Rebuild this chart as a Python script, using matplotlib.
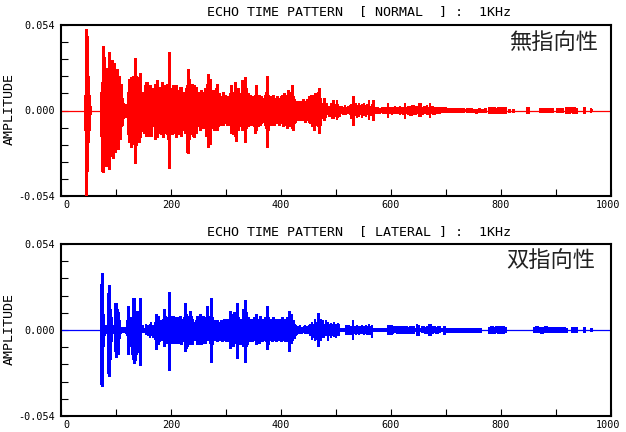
import numpy as np
import matplotlib
matplotlib.use("Agg")
import matplotlib.pyplot as plt
from matplotlib.ticker import MultipleLocator, FixedLocator
import matplotlib.transforms as mtransforms

# ---------------- data ----------------
X_MAX = 1000
Y_LIM = 0.054
X_TICKS = [0, 200, 400, 600, 800, 1000]
Y_TICKS = [-0.054, 0.0, 0.054]
Y_TICK_LABELS = ["-0.054", "0.000", "0.054"]
TITLES = ["ECHO TIME PATTERN  [ NORMAL  ] :  1KHz",
          "ECHO TIME PATTERN  [ LATERAL ] :  1KHz"]
TAGS = ["無指向性", "双指向性"]
Y_LABEL = "AMPLITUDE"
COLORS = ["#ff0000", "#0000ff"]

# NORMAL (omni) echo: spike times [ms], positive / negative peak (x 0.001)
NORMAL_T = (
    [43, 44, 45, 46, 47, 48, 49, 50, 51, 52]
    + [73, 75, 77, 79, 81, 83, 85, 87, 89, 91, 93, 95, 97, 99, 101, 103, 105, 107, 109, 111, 113, 115, 117, 119]
    + [121, 123, 125, 127, 129, 131, 133, 134.5, 136, 137, 139, 141, 143, 145, 147]
    + [150, 152, 154, 156, 158, 160, 162, 164, 166, 168, 170, 172, 174, 176, 178, 180, 182, 184, 186, 188, 190, 192, 194,
       195.5,
       197, 199, 201, 203, 205, 207, 209, 211, 213, 215, 217, 219, 221, 223, 225, 227, 229, 231, 233, 235]
    + [236, 238, 240, 242, 244, 246, 248, 250, 252, 254, 256, 258, 260, 262, 264, 266, 268, 270]
    + [271.5, 273, 275, 277, 279, 281, 283, 285, 287, 289, 291, 293, 295, 297, 299, 301, 303, 305, 307, 309, 311, 313,
       315, 317, 319, 321, 323, 325, 327, 329, 331, 333]
    + [334.5, 336, 338, 340, 342, 344, 346, 348, 350, 352, 354, 356, 358, 360, 362, 364, 366, 368, 370, 372]
    + [374, 376, 378, 380, 382, 384, 386, 388, 390, 392, 394, 396, 398, 400, 402, 404, 406, 408, 410, 412, 414, 416,
       418, 420]
    + [422, 424, 426, 428, 430, 432, 434, 436, 438, 440, 442, 444, 446, 448, 450, 452, 454, 456, 458, 460, 462, 464,
       466, 468, 469.5, 471]
    + [473, 476, 478, 481, 484, 487, 490, 493, 495, 498, 501, 504, 507, 510, 513, 516, 519, 522, 525, 528,
       530, 533, 536, 539, 542, 545, 548, 551, 554, 557, 560, 563, 566, 568, 571, 574, 577, 580, 583, 586,
       589, 592, 595, 598, 601, 604, 607, 610, 613, 616, 619, 622, 625, 628, 632, 636, 640, 644, 648, 653,
       657, 661, 665, 668, 671, 675, 679, 683, 687, 691, 695, 699, 703, 707, 711, 715, 719, 723]
    + [727, 731, 736, 740, 745, 750, 755, 760, 765, 770, 780, 784, 788, 792, 796, 800, 804, 808, 814, 822,
       848, 851, 872, 876, 880, 884, 888, 892, 903, 907, 911, 920, 924, 928, 932, 936, 950, 953, 963, 966]
)
NORMAL_POS = (
    [7, 10, 12, 51.5, 47, 20, 22, 10, 5, 3]
    + [12, 18, 41, 34, 27, 20, 23, 37, 27, 5, 32, 22, 30, 15, 26, 14, 22, 12, 17, 8, 5, 3, 4, 3]
    + [12, 20, 12, 21, 15, 22, 12, 33, 22, 14, 21, 12, 24, 12, 5]
    + [12, 16, 18, 18, 14, 10, 16, 12, 8, 14, 17, 12, 19, 10, 15, 9, 13, 18, 12, 16, 14, 17, 12,
       37,
       19, 12, 14, 16, 10, 15, 16, 12, 13, 10, 15, 15, 10, 12, 10, 14, 16, 26, 20, 15]
    + [14, 17, 12, 16, 13, 15, 9, 12, 10, 13, 8, 12, 11, 14, 10, 17, 23, 13]
    + [20, 12, 9, 13, 10, 14, 17, 8, 11, 7, 9, 6, 12, 8, 10, 7, 9, 6, 11, 16, 10, 12, 9, 18, 11, 14, 10, 8, 11, 19, 9, 12]
    + [21, 14, 9, 11, 8, 10, 7, 9, 8, 10, 16, 9, 8, 10, 7, 9, 6, 8, 10, 12]
    + [22, 10, 8, 9, 7, 9, 10, 7, 8, 9, 6, 8, 7, 9, 10, 8, 11, 9, 10, 13, 8, 10, 12, 16]
    + [9, 7, 6, 5, 6, 5, 4, 6, 5, 7, 5, 6, 5, 7, 9, 6, 10, 8, 10, 9, 11, 7, 10, 12, 14, 8]
    + [5, 4, 8, 4, 5, 3, 5, 4, 6.5, 4, 6.5, 4, 3, 3, 2.5, 3.4, 2.5, 3, 3.5, 4,
       9, 4, 4.5, 3.5, 4.9, 3.5, 4, 4.5, 3.5, 4, 6.5, 3, 4, 6.5, 2, 2.5, 2, 1.8, 2.2, 2,
       2.3, 2, 5, 2.5, 2.5, 2, 2.8, 2.5, 2, 3, 2.4, 2.5, 5, 2.5, 3, 2.5, 3.5, 2.5, 3, 4.5,
       2.5, 3, 3.5, 2.5, 5, 3, 2.5, 2, 1.5, 2, 1.5, 2, 1.5, 1.8, 1.5, 1.5, 1.8, 1.3]
    + [1.2, 1.5, 0.8, 1.3, 1.5, 0.8, 1.2, 1.5, 1, 1.3, 2, 2.5, 2.2, 1.8, 2.3, 2.5, 2, 2.2, 0.8, 1,
       2.5, 2.2, 1.6, 1.8, 1.5, 1.7, 1.5, 1.6, 1.5, 1.3, 1.5, 2, 1.8, 2, 2.2, 1.8, 2.5, 2.3, 1.5, 1.2]
)
NORMAL_NEG = (
    [9, 12, 15, 54, 38, 25, 20, 12, 4, 2]
    + [16, 38, 39, 26, 35, 22, 30, 37, 29, 6, 27, 30, 20, 26, 14, 24, 12, 18, 10, 9, 5, 3, 3, 4]
    + [15, 20, 18, 23, 13, 21, 17, 33, 22, 21, 13, 20, 17, 13, 5]
    + [14, 12, 16, 10, 16, 8, 12, 16, 10, 9, 18, 16, 17, 12, 14, 8, 15, 12, 17, 10, 14, 15, 18,
       36,
       20, 12, 15, 12, 14, 10, 17, 10, 15, 12, 10, 16, 12, 9, 14, 12, 26, 27, 18, 14]
    + [12, 15, 16, 17, 11, 14, 10, 8, 12, 9, 11, 10, 9, 11, 16, 14, 23, 12]
    + [21, 10, 11, 8, 12, 9, 12, 10, 7, 9, 6, 8, 9, 6, 8, 9, 6, 9, 8, 14, 12, 15, 10, 16, 19, 12, 9, 10, 8, 12, 10, 9]
    + [20, 11, 8, 10, 9, 7, 9, 8, 10, 14, 12, 8, 10, 7, 9, 8, 7, 6, 9, 11]
    + [23, 12, 9, 7, 8, 9, 8, 9, 6, 8, 7, 9, 6, 7, 8, 10, 9, 8, 11, 10, 9, 8, 10, 11]
    + [12, 8, 7, 6, 5, 6, 5, 4, 6, 5, 6, 7, 4, 6, 7, 8, 8, 10, 9, 12, 8, 9, 8, 10, 14, 9]
    + [4, 5, 6, 5, 3, 4, 4, 5, 5, 4, 6, 5, 4, 2.5, 3, 3, 3, 2.5, 3, 5,
       9.3, 4, 3.5, 4.5, 4, 3, 4.5, 3.5, 4, 3, 6, 3.5, 3, 6, 2.5, 2, 2, 2.2, 1.8, 2,
       2, 2.2, 4.5, 2, 2.8, 2.5, 2.3, 2, 2.5, 2.6, 2, 2.7, 5.5, 2, 3, 3.5, 2.5, 3, 2.5, 4,
       3, 2.5, 3, 3, 4.5, 2.5, 3, 2, 2, 1.5, 1.5, 1.8, 1.5, 1.5, 1.8, 1.3, 1.5, 1.5]
    + [1.2, 1.3, 1, 1.5, 1.2, 0.8, 1.4, 1.2, 1, 1.2, 2.2, 2.3, 2.5, 2, 2, 2.5, 2.2, 2, 0.8, 1,
       2.5, 2.3, 1.6, 1.5, 1.7, 1.6, 1.5, 1.5, 1.4, 1.5, 1.3, 2, 2, 1.8, 2, 2, 2.5, 2.5, 1.5, 1.2]
)

# LATERAL (figure-8) echo
LATERAL_T = (
    [72, 73, 74, 75.5, 77, 79, 81, 83, 85.5, 87, 89, 91, 93, 95, 97, 98.5, 100, 102, 104, 106, 108, 110, 113, 116, 119]
    + [120, 122, 124, 127, 129, 131, 133, 135, 137, 139, 141, 143, 146, 149, 152, 155, 158, 161, 164, 167,
       170, 173, 175, 177, 179, 181, 183, 185, 187, 189, 191, 193, 195.5]
    + [197, 199, 201, 203, 205, 207, 209, 211, 213, 215, 217, 219, 221, 223, 225, 227, 229, 231, 233, 235,
       237, 239, 241, 243, 245, 247, 249, 251, 253, 255, 257, 259, 261, 263, 265, 267, 269, 271]
    + [272.5]
    + [274, 276, 278, 280, 282, 284, 286, 288, 290, 292, 294, 296, 298, 300, 302, 304, 306]
    + [308, 310, 312, 314, 316, 318, 320, 322, 324, 326, 328, 330, 332, 334, 336, 338, 340, 342, 344, 346,
       348, 350, 352, 354, 356, 358, 360, 362, 364, 366, 368, 370, 372]
    + [374]
    + [376, 378, 380, 382, 384, 386, 388, 390, 392, 394, 396, 398, 400, 402, 404, 406, 408, 410, 412, 414,
       416, 418, 420, 422, 424]
    + [426, 429, 432, 435, 438, 441, 444, 447, 450, 453, 456, 459, 462, 465, 468]
    + [470]
    + [473, 476, 479, 482, 485, 488, 491, 494, 497, 500, 503, 506, 509, 512, 515, 518, 521, 524, 527, 530,
       533, 536, 539, 542, 545, 548, 551, 554, 557, 560, 563, 566]
    + [569]
    + [572, 576, 580, 584, 588, 592]
    + [595, 598, 601]
    + [604, 608, 612, 616, 620, 624, 628, 632, 636, 640, 644]
    + [648, 651]
    + [655, 659, 663, 667, 671, 675, 679, 683, 687]
    + [691, 696]
    + [701, 706, 711, 716, 721, 726, 731, 736, 741, 746, 751, 756, 761]
    + [780, 784, 788, 792, 796, 800, 804, 808, 862, 866, 870, 874, 878, 882, 886, 890, 894,
       902, 906, 910, 914, 918, 929, 932, 936, 950, 953, 963, 966]
)
LATERAL_POS = (
    [10, 29, 36, 10, 3, 2, 3, 2, 23, 28, 13, 8, 2, 2, 3, 17, 17, 13, 11, 6, 2, 2, 1.5, 2, 2]
    + [6, 15, 8, 4, 8, 20, 20, 12, 12, 10, 12, 20, 2, 3, 1.5, 4, 3, 4, 5, 3,
       5, 10, 7, 9, 6, 5, 6, 7, 13, 9, 6, 8, 24]
    + [8, 9, 7, 9, 8, 6, 8, 7, 6, 8, 9, 7, 6, 8, 17, 10, 9, 5, 8, 12,
       9, 7, 5, 3, 6, 9, 7, 9, 10, 7, 8, 9, 6, 8, 15, 7, 5, 9]
    + [20]
    + [8, 6, 5, 6, 5, 6, 4, 5, 6, 5, 6, 7, 5, 7, 5, 6, 7]
    + [12, 8, 10, 11, 6, 7, 17, 8, 5, 6, 7, 13, 9, 19, 11, 7, 8, 6, 7, 5,
       7, 8, 6, 10, 5, 7, 6, 9, 5, 7, 6, 8, 5]
    + [15]
    + [8, 6, 7, 5, 6, 8, 5, 7, 6, 5, 7, 6, 5, 8, 6, 7, 5, 8, 6, 12, 7, 10, 5, 6, 4]
    + [3, 2.5, 2.3, 3, 2, 2.5, 3, 2.2, 3, 4, 5, 4, 7, 5, 10.7]
    + [7]
    + [5, 6, 4, 6, 5, 4, 4.4, 3.5, 5, 4, 4.5, 3.5, 1.3, 1.2, 1.4, 3.3, 3, 3.2, 2.8, 6.5,
       2.7, 2.5, 3, 2.8, 2.5, 3, 2.7, 3.3, 2.6, 3.8, 2.5, 3.4]
    + [1.2]
    + [1.3, 1.1, 1.3, 1.2, 1.1, 1.3]
    + [3.3, 3, 3.3]
    + [2, 2.5, 2.2, 2.5, 2, 2.4, 2.2, 2, 2.5, 2.3, 1.5]
    + [3.5, 3.3]
    + [1.5, 2.5, 2, 2.7, 4, 2.2, 2.5, 2, 2.3]
    + [1.5, 2.3]
    + [1.2, 1.3, 1, 1.2, 1.3, 1, 1.2, 1, 1.2, 1, 1.1, 1.2, 1]
    + [2, 2.3, 2, 2.2, 2.3, 2, 2.2, 2, 2, 2.2, 1.8, 2.1, 2, 2.2, 1.9, 2, 1.8,
       1.6, 1.7, 1.6, 1.7, 1.5, 2, 2.1, 2, 2.1, 2, 1.2, 1.1]
)
LATERAL_NEG = (
    [9, 34, 35, 10, 2, 3, 2, 2, 27, 29, 18, 7, 2, 2, 2, 13, 17, 11, 15, 5, 2, 1.5, 2, 2, 2]
    + [3, 15, 10, 5, 15, 18, 21, 19, 15, 10, 14, 22, 3, 2, 2, 3, 4, 5, 4, 5,
       6, 12, 5, 9, 7, 6, 5, 5, 10, 7, 8, 7, 25]
    + [9, 8, 8, 6, 8, 7, 6, 8, 6, 7, 8, 9, 6, 7, 13, 11, 10, 5, 7, 9,
       8, 9, 6, 4, 5, 9, 8, 9, 8, 9, 8, 7, 8, 6, 5, 6, 6, 8]
    + [20]
    + [9, 5, 6, 5, 6, 7, 5, 6, 5, 7, 5, 6, 6, 7, 6, 5, 7]
    + [11, 7, 10, 8, 7, 8, 17.5, 9, 6, 9, 6, 10, 8, 20, 10, 9, 6, 7, 5, 6,
       7, 6, 5, 9, 6, 5, 8, 7, 6, 7, 5, 6, 7]
    + [12]
    + [9, 5, 6, 6, 7, 5, 6, 7, 5, 6, 6, 5, 7, 6, 5, 6, 7, 6, 7, 13, 5, 8, 6, 4, 5]
    + [3, 3, 2.5, 2.5, 2.7, 2, 2.5, 2.5, 2.5, 3.5, 6, 5, 7, 6, 10.2]
    + [6]
    + [7, 5, 5, 4, 7, 4, 5, 4, 4.5, 5, 4, 4, 1.3, 1.3, 1.2, 3, 3.3, 3, 3, 6.5,
       2.5, 3, 2.7, 3, 2.8, 2.6, 3, 2.8, 3, 3, 3, 5]
    + [1.2]
    + [1.1, 1.2, 1.2, 1.3, 1.2, 1.1]
    + [3.3, 3.2, 3]
    + [2.5, 2, 2.8, 2.3, 2.2, 2, 2.5, 2.2, 2, 2.4, 1.5]
    + [3.5, 3.5]
    + [1.5, 2, 2.5, 2.3, 3.6, 2.5, 2, 2.3, 2]
    + [1.5, 2.3]
    + [1.2, 1.2, 1.2, 1, 1.2, 1, 1.3, 1.1, 1, 1.2, 1, 1.2, 1]
    + [2.2, 2, 2.3, 2, 2.2, 2, 2.3, 2, 2, 2.1, 2, 2.2, 1.8, 2, 2.1, 2, 1.8,
       1.7, 1.6, 1.6, 1.5, 1.6, 2.1, 2, 2, 2.1, 2.1, 1.2, 1.1]
)

SERIES = [(NORMAL_T, NORMAL_POS, NORMAL_NEG), (LATERAL_T, LATERAL_POS, LATERAL_NEG)]
for s in SERIES:
    assert len(s[0]) == len(s[1]) == len(s[2]), [len(v) for v in s]

# ---------------- drawing ----------------
W, H = 626, 432
MONO = "DejaVu Sans Mono"
GAP = 6          # samples further apart than this are isolated spikes
PX_PER_MS = 550 / X_MAX
fig = plt.figure(figsize=(W / 100, H / 100), dpi=100)
fig.patch.set_facecolor("white")


def px_rect(l, t, r, b):
    return [l / W, 1 - b / H, (r - l) / W, (b - t) / H]


def spike_widths(t):
    """Line width (pt) for each spike so neighbouring spikes just touch."""
    t = np.asarray(t, float)
    d = np.diff(t)
    left = np.r_[GAP, d]
    right = np.r_[d, GAP]
    sp = np.minimum(np.minimum(left, right), GAP)
    px = np.clip(sp * PX_PER_MS * 1.05, 1.3, 2.8)
    return px * 72 / 100


AX_RECTS = [px_rect(61, 25, 611, 196), px_rect(61, 244, 611, 416)]
TITLE_BASE = [15, 235]
YLABEL_CY = [109, 329]
TAG_POS = [(598, 42), (595, 260)]

for i, (rect, (t, pos, neg)) in enumerate(zip(AX_RECTS, SERIES)):
    ax = fig.add_axes(rect)
    col = COLORS[i]
    ax.axhline(0, color=col, lw=0.9, zorder=2)
    tt = np.asarray(t, float)
    ax.vlines(tt, -np.asarray(neg, float) * 1e-3, np.asarray(pos, float) * 1e-3,
              colors=col, linewidths=spike_widths(tt), zorder=3, antialiased=False)
    ax.set_xlim(0, X_MAX)
    ax.set_ylim(-Y_LIM, Y_LIM)

    ax.xaxis.set_major_locator(FixedLocator(X_TICKS))
    ax.set_xticklabels([str(v) for v in X_TICKS])
    ax.xaxis.set_minor_locator(MultipleLocator(100))
    ax.yaxis.set_major_locator(FixedLocator(Y_TICKS))
    ax.set_yticklabels(Y_TICK_LABELS)
    ax.yaxis.set_minor_locator(MultipleLocator(Y_LIM / 5))
    ax.tick_params(which="both", direction="in", length=5, width=0.8, color="black",
                   top=False, right=False)
    ax.tick_params(axis="y", pad=4.5)
    ax.tick_params(axis="x", pad=3)
    for lab in ax.get_xticklabels() + ax.get_yticklabels():
        lab.set_fontfamily(MONO)
        lab.set_fontsize(7.3)
    for sp in ax.spines.values():
        sp.set_linewidth(1.5)
        sp.set_color("black")
    xl = ax.get_xticklabels()
    xl[0].set_transform(xl[0].get_transform() + mtransforms.ScaledTranslation(5 / 100, 0, fig.dpi_scale_trans))
    xl[-1].set_transform(xl[-1].get_transform() + mtransforms.ScaledTranslation(-3 / 100, 0, fig.dpi_scale_trans))

    fig.text(207 / W, 1 - TITLE_BASE[i] / H, TITLES[i], family=MONO, fontsize=9.6,
             ha="left", va="baseline", color="black")
    fig.text(9.5 / W, 1 - YLABEL_CY[i] / H, Y_LABEL, family=MONO, fontsize=9.6,
             rotation=90, ha="center", va="center", color="black")
    tx, ty = TAG_POS[i]
    fig.text(tx / W, 1 - ty / H, TAGS[i], family=["Noto Sans CJK JP", "DejaVu Sans"],
             fontsize=16, ha="right", va="center", color="#222222")

fig.savefig("out.png", dpi=100, facecolor="white")
